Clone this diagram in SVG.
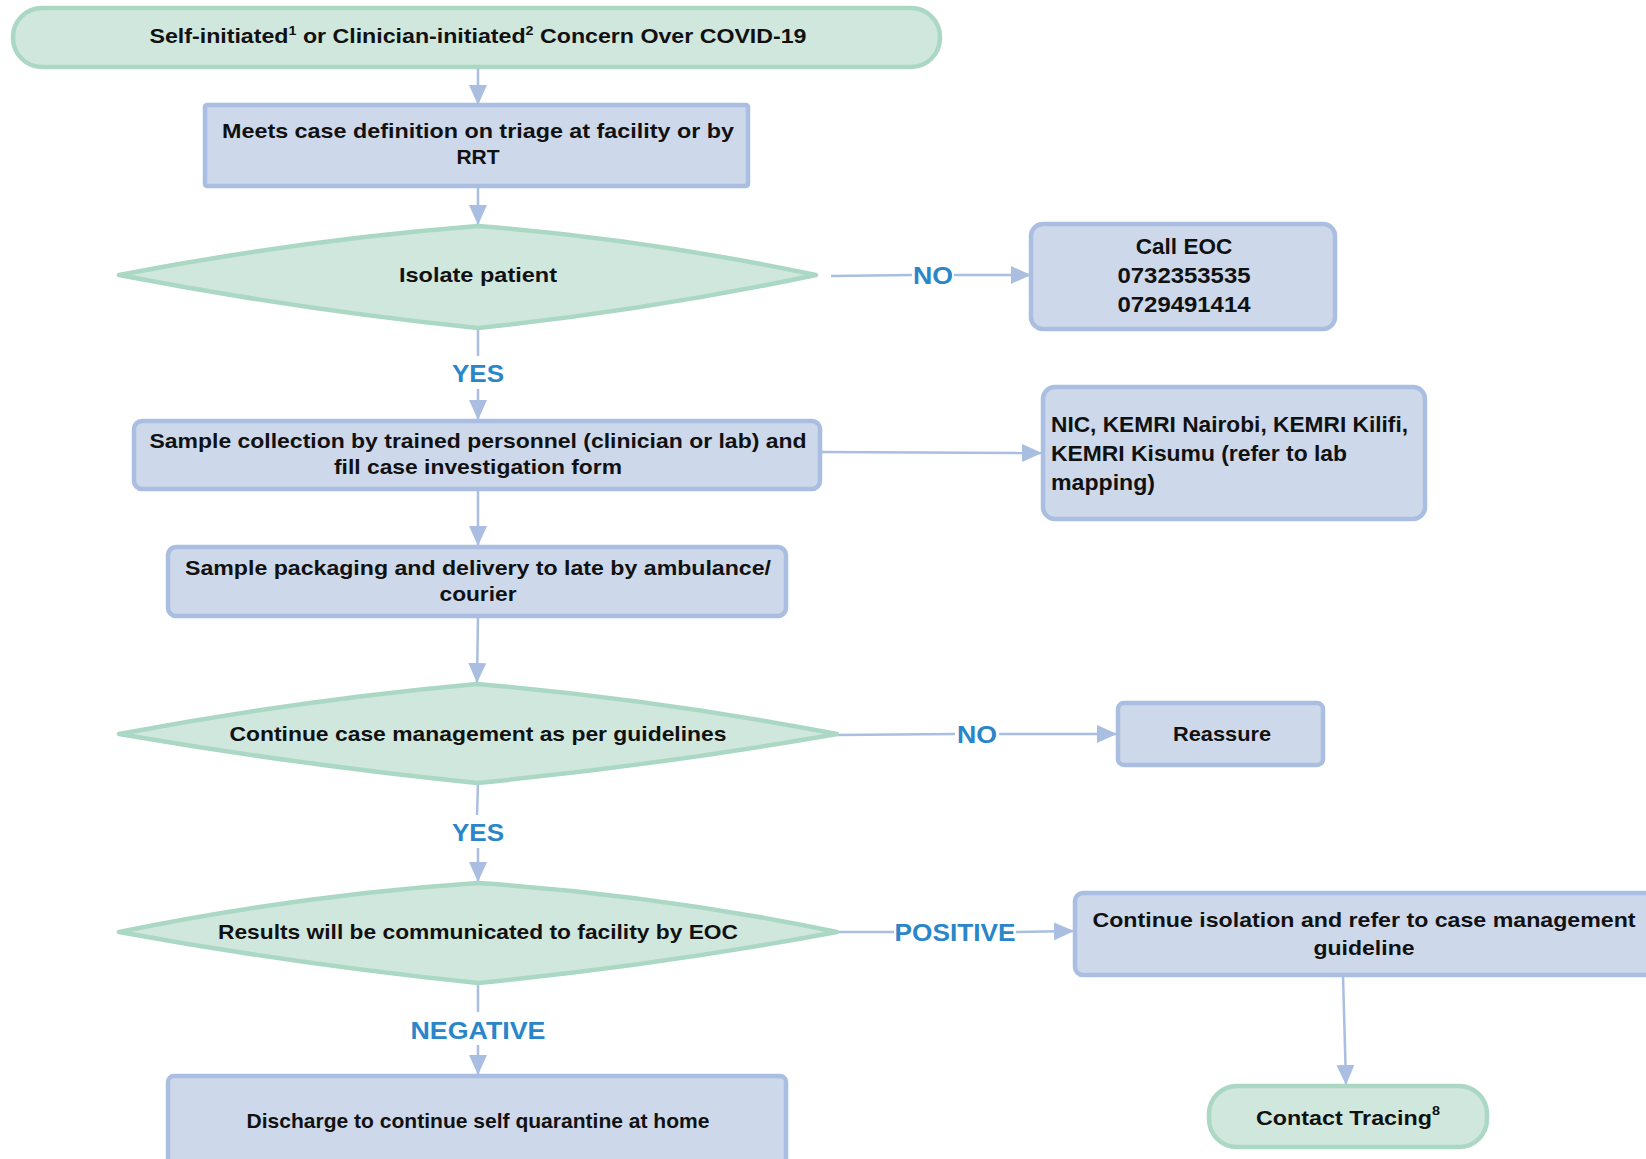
<svg xmlns="http://www.w3.org/2000/svg" width="1646" height="1159" viewBox="0 0 1646 1159">
<style>
.g{fill:#d0e7dd;stroke:#abd8c4;stroke-width:4.5;stroke-linejoin:round}
.b{fill:#cdd8ea;stroke:#a9bee0;stroke-width:4.5;stroke-linejoin:round}
.t{font-family:"Liberation Sans",Arial,sans-serif;font-weight:bold;font-size:21px;fill:#111;text-anchor:middle}
.tl{font-family:"Liberation Sans",Arial,sans-serif;font-weight:bold;font-size:22.5px;fill:#111}
.lbl{font-family:"Liberation Sans",Arial,sans-serif;font-weight:bold;font-size:24px;fill:#2a86c8;text-anchor:middle}
.c{fill:none;stroke:#a9bee0;stroke-width:2.5}
</style>
<defs>
<marker id="ah" markerWidth="20" markerHeight="18" refX="19" refY="9" orient="auto" markerUnits="userSpaceOnUse" viewBox="0 0 20 18">
<path d="M0,0 L20,9 L0,18 z" fill="#a9bee0"/>
</marker>
</defs>
<g id="connectors">
<line class="c" x1="478" y1="67" x2="478" y2="104" marker-end="url(#ah)"/>
<line class="c" x1="478" y1="186" x2="478" y2="224" marker-end="url(#ah)"/>
<line class="c" x1="831" y1="276" x2="912" y2="275"/>
<line class="c" x1="954" y1="275" x2="1030" y2="275" marker-end="url(#ah)"/>
<text class="lbl" x="933" y="284" textLength="40" lengthAdjust="spacingAndGlyphs">NO</text>
<line class="c" x1="478" y1="328" x2="478" y2="356"/>
<line class="c" x1="478" y1="389" x2="478" y2="419" marker-end="url(#ah)"/>
<text class="lbl" x="478" y="382" textLength="52" lengthAdjust="spacingAndGlyphs">YES</text>
<line class="c" x1="820" y1="452" x2="1041" y2="453" marker-end="url(#ah)"/>
<line class="c" x1="478" y1="489" x2="478" y2="545" marker-end="url(#ah)"/>
<line class="c" x1="478" y1="616" x2="477" y2="682" marker-end="url(#ah)"/>
<line class="c" x1="837" y1="735" x2="955" y2="734"/>
<line class="c" x1="999" y1="734" x2="1116" y2="734" marker-end="url(#ah)"/>
<text class="lbl" x="977" y="743" textLength="40" lengthAdjust="spacingAndGlyphs">NO</text>
<line class="c" x1="478" y1="783" x2="477" y2="815"/>
<line class="c" x1="478" y1="848" x2="478" y2="881" marker-end="url(#ah)"/>
<text class="lbl" x="478" y="841" textLength="52" lengthAdjust="spacingAndGlyphs">YES</text>
<line class="c" x1="837" y1="932" x2="894" y2="932"/>
<line class="c" x1="1016" y1="932" x2="1073" y2="931" marker-end="url(#ah)"/>
<text class="lbl" x="955" y="941" textLength="121" lengthAdjust="spacingAndGlyphs">POSITIVE</text>
<line class="c" x1="478" y1="983" x2="478" y2="1012"/>
<line class="c" x1="478" y1="1045" x2="478" y2="1074" marker-end="url(#ah)"/>
<text class="lbl" x="478" y="1039" textLength="135" lengthAdjust="spacingAndGlyphs">NEGATIVE</text>
<line class="c" x1="1343" y1="975" x2="1346" y2="1084" marker-end="url(#ah)"/>
</g>
<g id="n1">
<rect class="g" x="13" y="8" width="927" height="59" rx="29"/>
<text class="t" x="478" y="43" textLength="657" lengthAdjust="spacingAndGlyphs">Self-initiated<tspan font-size="13" dy="-8">1</tspan><tspan dy="8"> or Clinician-initiated</tspan><tspan font-size="13" dy="-8">2</tspan><tspan dy="8"> Concern Over COVID-19</tspan></text>
</g>
<g id="n2">
<rect class="b" x="205" y="105" width="543" height="81" rx="2"/>
<text class="t" x="478" y="138" textLength="512" lengthAdjust="spacingAndGlyphs">Meets case definition on triage at facility or by</text>
<text class="t" x="478" y="164">RRT</text>
</g>
<g id="n3">
<path class="g" d="M119,275 Q300,240 478,226 Q650,240 816,275 Q650,310 478,328 Q300,310 119,275 Z"/>
<text class="t" x="478" y="282" textLength="158" lengthAdjust="spacingAndGlyphs">Isolate patient</text>
</g>
<g id="n4">
<rect class="b" x="1031" y="224" width="304" height="105" rx="12"/>
<text class="t" x="1184" y="254" style="font-size:22.5px">Call EOC</text>
<text class="t" x="1184" y="283" style="font-size:22.5px" textLength="133" lengthAdjust="spacingAndGlyphs">0732353535</text>
<text class="t" x="1184" y="312" style="font-size:22.5px" textLength="133" lengthAdjust="spacingAndGlyphs">0729491414</text>
</g>
<g id="n5">
<rect class="b" x="134" y="421" width="686" height="68" rx="8"/>
<text class="t" x="478" y="448" textLength="657" lengthAdjust="spacingAndGlyphs">Sample collection by trained personnel (clinician or lab) and</text>
<text class="t" x="478" y="474" textLength="288" lengthAdjust="spacingAndGlyphs">fill case investigation form</text>
</g>
<g id="n6">
<rect class="b" x="1043" y="387" width="382" height="132" rx="12"/>
<text class="tl" x="1051" y="432" textLength="357" lengthAdjust="spacingAndGlyphs">NIC, KEMRI Nairobi, KEMRI Kilifi,</text>
<text class="tl" x="1051" y="461" textLength="296" lengthAdjust="spacingAndGlyphs">KEMRI Kisumu (refer to lab</text>
<text class="tl" x="1051" y="490" textLength="104" lengthAdjust="spacingAndGlyphs">mapping)</text>
</g>
<g id="n7">
<rect class="b" x="168" y="547" width="618" height="69" rx="8"/>
<text class="t" x="478" y="575" textLength="586" lengthAdjust="spacingAndGlyphs">Sample packaging and delivery to late by ambulance/</text>
<text class="t" x="478" y="601" textLength="77" lengthAdjust="spacingAndGlyphs">courier</text>
</g>
<g id="n8">
<path class="g" d="M119,734 Q300,700 477,684 Q660,700 837,734 Q660,765 477,783 Q300,765 119,734 Z"/>
<text class="t" x="478" y="741" textLength="497" lengthAdjust="spacingAndGlyphs">Continue case management as per guidelines</text>
</g>
<g id="n9">
<rect class="b" x="1118" y="703" width="205" height="62" rx="6"/>
<text class="t" x="1222" y="741" textLength="98" lengthAdjust="spacingAndGlyphs">Reassure</text>
</g>
<g id="n10">
<path class="g" d="M119,932 Q300,895 478,883 Q660,895 837,932 Q660,965 478,983 Q300,965 119,932 Z"/>
<text class="t" x="478" y="939" textLength="520" lengthAdjust="spacingAndGlyphs">Results will be communicated to facility by EOC</text>
</g>
<g id="n11">
<rect class="b" x="1075" y="893" width="580" height="82" rx="8"/>
<text class="t" x="1364" y="927" textLength="543" lengthAdjust="spacingAndGlyphs">Continue isolation and refer to case management</text>
<text class="t" x="1364" y="955" textLength="101" lengthAdjust="spacingAndGlyphs">guideline</text>
</g>
<g id="n12">
<rect class="g" x="1209" y="1086" width="278" height="61" rx="28"/>
<text class="t" x="1348" y="1125" textLength="184" lengthAdjust="spacingAndGlyphs">Contact Tracing<tspan font-size="13" dy="-10">8</tspan></text>
</g>
<g id="n13">
<rect class="b" x="168" y="1076" width="618" height="100" rx="6"/>
<text class="t" x="478" y="1128" textLength="463" lengthAdjust="spacingAndGlyphs">Discharge to continue self quarantine at home</text>
</g>
</svg>
